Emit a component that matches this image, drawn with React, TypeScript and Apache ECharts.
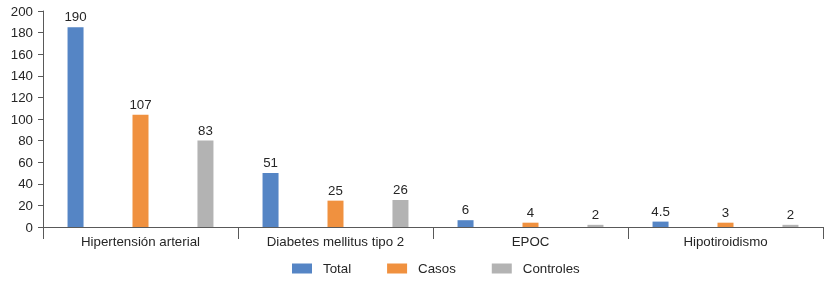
import React, { useEffect, useRef } from "react";
import * as echarts from "echarts";

const categories = ["Hipertensión arterial", "Diabetes mellitus tipo 2", "EPOC", "Hipotiroidismo"];
const totalValues = [185, 50, 6.3, 5];
const casosValues = [104, 24.4, 4, 4];
const controlesValues = [80, 25, 2, 2];
const totalLabels = ["190", "51", "6", "4.5"];
const casosLabels = ["107", "25", "4", "3"];
const controlesLabels = ["83", "26", "2", "2"];
const yTicks = { min: 0, max: 200, interval: 20 };

const FONT = "'Liberation Sans', Arial, sans-serif";
const FS = 13.3;

export default function App() {
  const ref = useRef<HTMLDivElement>(null);
  useEffect(() => {
    if (!ref.current) return;
    const chart = echarts.init(ref.current, undefined, { renderer: "svg" });
    const mkSeries = (name: string, data: number[], labels: string[], color: string) => ({
      name,
      type: "bar",
      data,
      barWidth: 16,
      barGap: "306%",
      itemStyle: { color },
      label: {
        show: true,
        position: "top",
        distance: 4,
        fontSize: FS,
        fontFamily: FONT,
        color: "#262626",
        formatter: (p: any) => labels[p.dataIndex],
      },
    });
    chart.setOption({
      animation: false,
      textStyle: { fontFamily: FONT },
      grid: { left: 43, right: 8, top: 11, bottom: 55, containLabel: false },
      legend: {
        bottom: 2,
        left: 287,
        itemWidth: 20,
        itemHeight: 10,
        itemGap: 36,
        icon: "rect",
        textStyle: { fontSize: FS, color: "#262626", fontFamily: FONT, padding: [0, 0, 0, 6] },
        data: ["Total", "Casos", "Controles"],
      },
      xAxis: {
        type: "category",
        data: categories,
        axisLine: { lineStyle: { color: "#595959", width: 1 } },
        axisTick: { show: true, length: 12, alignWithLabel: false, lineStyle: { color: "#595959" } },
        axisLabel: { fontSize: FS, color: "#262626", fontFamily: FONT, margin: 8 },
      },
      yAxis: {
        type: "value",
        min: yTicks.min,
        max: yTicks.max,
        interval: yTicks.interval,
        axisLine: { show: true, lineStyle: { color: "#595959", width: 1 } },
        axisTick: { show: true, length: 5, lineStyle: { color: "#595959" } },
        splitLine: { show: false },
        axisLabel: { fontSize: FS, color: "#262626", fontFamily: FONT, margin: 10 },
      },
      series: [
        mkSeries("Total", totalValues, totalLabels, "#5585C5"),
        mkSeries("Casos", casosValues, casosLabels, "#F0913F"),
        mkSeries("Controles", controlesValues, controlesLabels, "#B3B3B3"),
      ],
    });
    return () => chart.dispose();
  }, []);
  return <div ref={ref} style={{ position: "fixed", left: 0, top: 0, width: 831, height: 282 }} />;
}
